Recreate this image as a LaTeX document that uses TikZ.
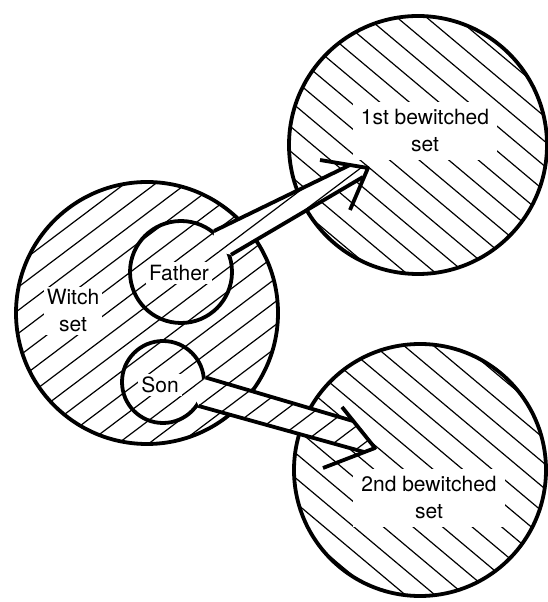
\documentclass[tikz,border=0pt]{standalone}
\usepackage{fontspec}
\setmainfont{TeX Gyre Heros}
\usetikzlibrary{arrows}

\begin{document}
\begin{tikzpicture}[x=1pt,y=1pt,
	set/.style={circle,draw,line width=3.8pt,inner sep=0pt},
	witchhatch/.style={path picture={\begin{scope}[rotate=37]
		\foreach \k in {-70,...,70} \draw[line width=1.2pt] (-1300,\k*18.5) -- (1300,\k*18.5);
		\end{scope}}},
	spellhatch/.style={path picture={\begin{scope}[rotate=-40]
		\foreach \k in {-70,...,70} \draw[line width=1.2pt] (-1300,\k*19) -- (1300,\k*19);
		\end{scope}}},
	lbl/.style={fill=white,align=center,inner sep=3pt,font=\fontsize{21}{27}\selectfont},
	shaft/.style={line width=3.8pt,line join=round}]

\useasboundingbox (0,0) rectangle (548,602);

% hatching of the sets
\path[witchhatch] (147,289) circle (131);
\path[spellhatch] (418,457) circle (129);
	\path[spellhatch] (420,132) circle (126);

% labels
\node[lbl]   (witchlbl)  at (73,291)  {Witch\\set};
	\node[lbl]   (fatherlbl) at (179,329) {Father};
\node[lbl]   (sonlbl)    at (160,217) {Son};
\node[lbl,inner sep=8pt]   (firstlbl)  at (425,471) {1st bewitched\\set};
	\node[lbl,inner sep=8pt]   (secondlbl) at (429,104) {2nd bewitched\\set};

% the sets
\node[set,minimum size=262pt]   (witch)  at (147,289) {};
	\node[set,minimum size=258pt] (first)  at (418,457) {};
\node[set,minimum size=252pt]   (second) at (420,132) {};
	\node[set,minimum size=102pt]  (father) at (181,330) {};
\node[set,minimum size=82pt]   (son)    at (163,220) {};

% father -> 1st bewitched set
\coordinate (fin)  at (212,352);
\coordinate (fup)  at (350,437);
	\coordinate (flow) at (363,425);
\coordinate (ftip) at (368,434);
\coordinate (fbarbA) at (320,442);
\coordinate (fbarbB) at (350,392);

\path[fill=white,witchhatch] (father.51) -- (fup) -- (ftip) -- (flow) -- (father.19) -- (fin) -- cycle;
\draw[shaft] (father.51) -- (fup);
	\draw[shaft] (father.19) -- (flow);
\draw[shaft] (fbarbA) -- (ftip) -- (fbarbB);

% son -> 2nd bewitched set
\coordinate (sin)  at (192,212);
\coordinate (sup)  at (353,181);
	\coordinate (slow) at (364,150);
\coordinate (stip) at (375,154);
\coordinate (sbarbA) at (342,195);
\coordinate (sbarbB) at (323,134);

\path[fill=white,witchhatch] (son.6) -- (sup) -- (stip) -- (slow) -- (son.-34) -- (sin) -- cycle;
\draw[shaft] (son.6) -- (sup);
	\draw[shaft] (son.-34) -- (slow);
\draw[shaft] (sbarbA) -- (stip) -- (sbarbB);

\end{tikzpicture}
\end{document}
